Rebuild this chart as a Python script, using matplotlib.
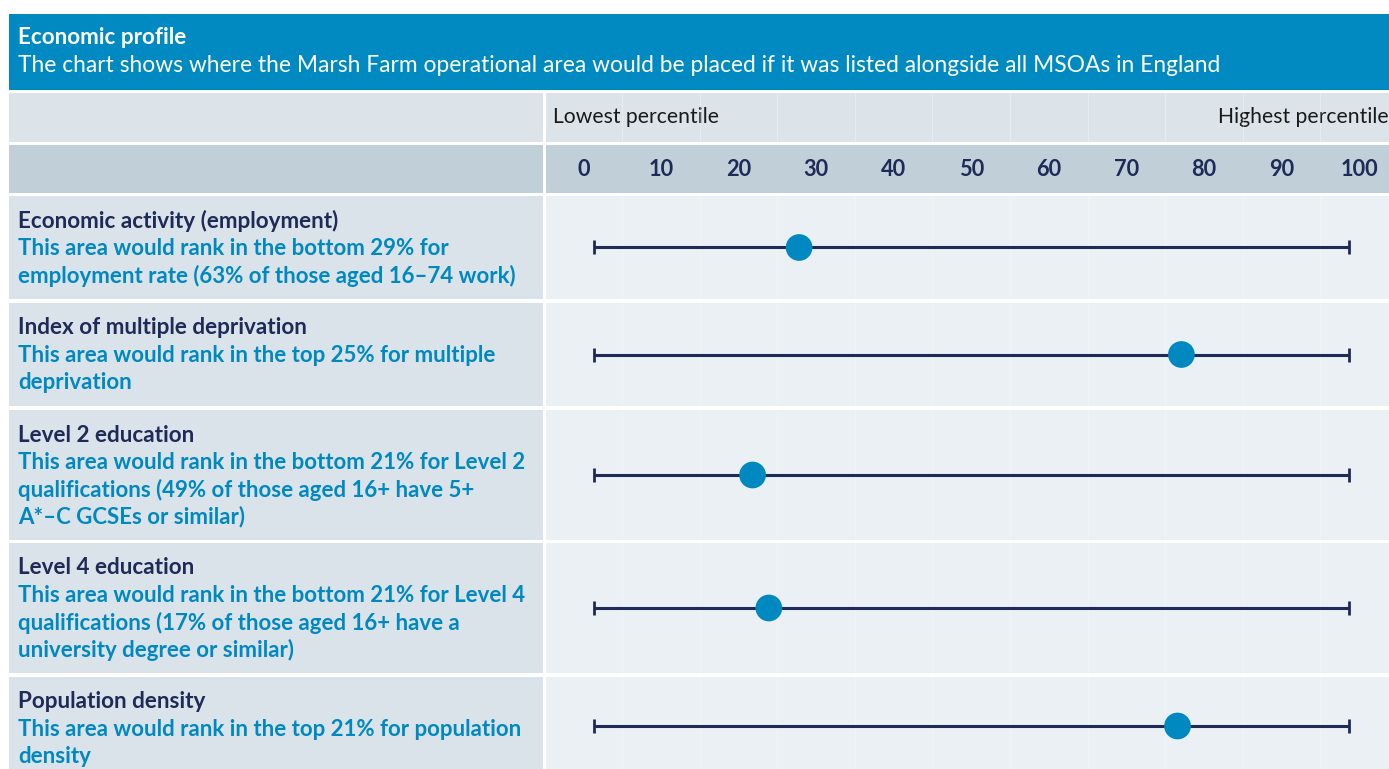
import matplotlib
matplotlib.use("Agg")
import matplotlib.pyplot as plt
from matplotlib.patches import Rectangle

plt.rcParams['font.family'] = ['Lato', 'DejaVu Sans']

# ---- data ----
title = "Economic profile"
subtitle = ("The chart shows where the Marsh Farm operational area would be placed "
            "if it was listed alongside all MSOAs in England")
row_titles = [
    "Economic activity (employment)",
    "Index of multiple deprivation",
    "Level 2 education",
    "Level 4 education",
    "Population density",
]
row_descriptions = [
    ["This area would rank in the bottom 29% for",
     "employment rate (63% of those aged 16\u201374 work)"],
    ["This area would rank in the top 25% for multiple",
     "deprivation"],
    ["This area would rank in the bottom 21% for Level 2",
     "qualifications (49% of those aged 16+ have 5+",
     "A*\u2013C GCSEs or similar)"],
    ["This area would rank in the bottom 21% for Level 4",
     "qualifications (17% of those aged 16+ have a",
     "university degree or similar)"],
    ["This area would rank in the top 21% for population",
     "density"],
]
percentile_values = [27.8, 77.1, 21.8, 23.9, 76.6]
range_min = 1.4
range_max = 98.7
tick_values = [0, 10, 20, 30, 40, 50, 60, 70, 80, 90, 100]
tick_labels = ["0", "10", "20", "30", "40", "50", "60", "70", "80", "90", "100"]
grid_values = [5, 15, 25, 35, 45, 55, 65, 75, 85, 95]

# ---- style ----
W, H = 1389, 769
HEADER = "#008AC1"
LBL_BG = "#DCE4EA"
TICK_BG = "#C1CFD8"
LEFT_BG = "#DAE3E9"
RIGHT_BG = "#EAF0F3"
NAVY = "#1E2A57"
BLUE = "#0088C0"

fig = plt.figure(figsize=(W / 100, H / 100), dpi=100)
bg = fig.add_axes([0, 0, 1, 1])
bg.set_xlim(0, W)
bg.set_ylim(H, 0)
bg.axis("off")

def rect(x0, y0, x1, y1, color):
    bg.add_patch(Rectangle((x0, y0), x1 - x0, y1 - y0, facecolor=color,
                           edgecolor="none", zorder=0))

# layout (pixel rows)
LX0, LX1, RX0, RX1 = 9, 543, 546, 1389
rect(LX0, 14, RX1, 90, HEADER)
bg.text(18, 38, title, color="white", fontsize=16.2, fontweight="bold", va="center")
bg.text(18, 65, subtitle, color="white", fontsize=16.4, va="center")

rect(LX0, 93, LX1, 142, LBL_BG)
rect(RX0, 93, RX1, 142, LBL_BG)
rect(LX0, 145, LX1, 193, TICK_BG)
rect(RX0, 145, RX1, 193, TICK_BG)

row_bounds = [(196, 299), (303, 406), (410, 540), (543, 673), (677, 775)]
for (y0, y1) in row_bounds:
    rect(LX0, y0, LX1, y1, LEFT_BG)
    rect(RX0, y0, RX1, y1, RIGHT_BG)

# x mapping for the percentile axes: 0 -> 583.5 px, 100 -> 1359 px
px0, px100 = 583.5, 1359.0
ppu = (px100 - px0) / 100.0
xlim = ((RX0 - px0) / ppu, (RX1 - px0) / ppu)

def panel(y0, y1):
    ax = fig.add_axes([RX0 / W, 1 - y1 / H, (RX1 - RX0) / W, (y1 - y0) / H])
    ax.set_xlim(*xlim)
    ax.set_ylim(0, 1)
    ax.axis("off")
    ax.patch.set_alpha(0)
    return ax

# label row
lab_ax = panel(93, 142)
for g in grid_values:
    lab_ax.axvline(g, color="white", lw=0.8, alpha=0.3, zorder=0)
bg.text(553, 117, "Lowest percentile", color="#1a1a1a", fontsize=15.2, va="center")
bg.text(1389, 117, "Highest percentile", color="#1a1a1a", fontsize=15.2, va="center", ha="right")

# tick row
tick_ax = panel(145, 193)
for v, lab in zip(tick_values, tick_labels):
    tick_ax.text(v, 0.5, lab, color=NAVY, fontsize=15.7, fontweight="bold",
                 ha="center", va="center")

# data rows
for i, (y0, y1) in enumerate(row_bounds):
    ax = panel(y0, y1)
    for g in grid_values:
        ax.axvline(g, color="white", lw=0.8, alpha=0.3, zorder=0)
    yc = 0.5
    ax.plot([range_min, range_max], [yc, yc], color=NAVY, lw=2.2, zorder=2,
            solid_capstyle="butt")
    ax.plot([range_min, range_max], [yc, yc], linestyle="none", marker="|",
            markersize=10, markeredgewidth=2, color=NAVY, zorder=2)
    ax.scatter([percentile_values[i]], [yc], s=370, color=BLUE, zorder=3,
               edgecolors="none")

    ty = y0 + 25
    bg.text(18, ty, row_titles[i], color=NAVY, fontsize=16.2, fontweight="bold",
            va="center")
    for j, line in enumerate(row_descriptions[i]):
        bg.text(18, ty + 27.3 * (j + 1), line, color=BLUE, fontsize=16,
                fontweight="bold", va="center")

fig.savefig("out.png", dpi=100)
